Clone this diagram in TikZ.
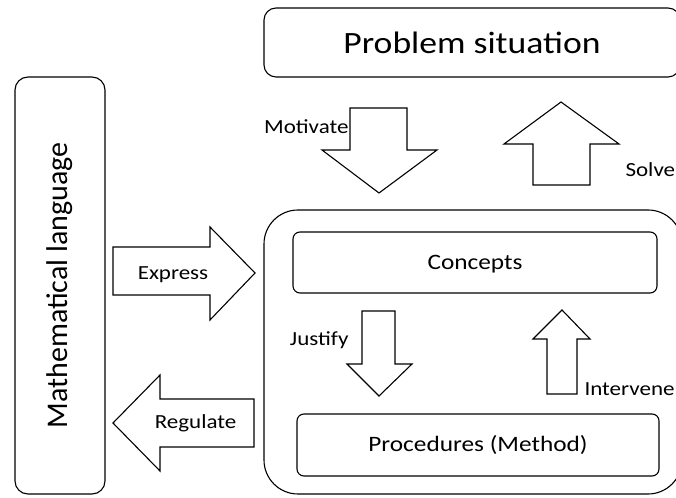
\documentclass[tikz,border=0pt]{standalone}
\usepackage{fontspec}
\setmainfont[FakeStretch=1.15]{Carlito}
\newfontfamily\sidefont{Carlito}
\begin{document}
\begin{tikzpicture}[x=10pt,y=10pt,line width=1.1pt,
  box/.style={draw,rectangle,rounded corners=#1,inner sep=0pt},
  box/.default=7pt,
  blockarrow/.style={draw,line join=miter,fill=white},
  lbl/.style={font=\fontsize{20}{24}\selectfont,inner sep=0pt}]
\useasboundingbox (0,0) rectangle (67.6,49.7);
\clip (0,0) rectangle (67.6,49.7);

\node[box=12pt,minimum width=416pt,minimum height=69pt,font=\fontsize{31}{36}\selectfont] (problem) at (47.2,45.45) {Problem situation};
\node[box=13pt,rotate=90,minimum width=417pt,minimum height=90pt,font=\sidefont\fontsize{30}{36}\selectfont] (mathlang) at (6.0,21.15) {Mathematical language};

\node[box=34pt,minimum width=418pt,minimum height=284pt] (knowledge) at (47.3,14.5) {};
\node[box,minimum width=364pt,minimum height=61pt,text depth=0pt,font=\fontsize{22}{26}\selectfont] (concepts) at (47.5,23.45) {Concepts};
\node[box,minimum width=362pt,minimum height=62pt,font=\fontsize{22}{26}\selectfont] (procedures) at (47.8,5.2) {Procedures (Method)};

% problem situation <-> knowledge
\draw[blockarrow] (35.0,38.9) -- (40.7,38.9) -- (40.7,34.7) -- (43.7,34.7) -- (37.9,30.4) -- (32.2,34.7) -- (35.0,34.7) -- cycle;
\node[lbl,anchor=east] (motivate) at (34.9,37.0) {Motivate};
\draw[blockarrow] (53.3,31.2) -- (59.0,31.2) -- (59.0,35.3) -- (61.9,35.3) -- (56.1,39.5) -- (50.4,35.3) -- (53.3,35.3) -- cycle;
\node[lbl,anchor=west] (solve) at (62.5,32.7) {Solve};

% concepts <-> procedures
\draw[blockarrow] (36.2,18.6) -- (39.5,18.6) -- (39.5,13.3) -- (41.2,13.3) -- (37.9,10.1) -- (34.7,13.3) -- (36.2,13.3) -- cycle;
\node[lbl,anchor=east] (justify) at (34.9,15.7) {Justify};
\draw[blockarrow] (54.7,10.3) -- (57.7,10.3) -- (57.7,15.8) -- (59.0,15.8) -- (56.2,18.7) -- (53.3,15.8) -- (54.7,15.8) -- cycle;
\node[lbl,anchor=west] (intervene) at (58.4,10.8) {Intervene};

% language <-> knowledge
\draw[blockarrow] (11.3,25.0) -- (21.0,25.0) -- (21.0,27.0) -- (25.5,22.4) -- (21.0,17.7) -- (21.0,20.2) -- (11.3,20.2) -- cycle;
\node[lbl] (express) at (17.3,22.2) {Express};
\draw[blockarrow] (25.4,9.8) -- (16.0,9.8) -- (16.0,12.2) -- (11.3,7.4) -- (16.0,2.6) -- (16.0,5.0) -- (25.4,5.0) -- cycle;
\node[lbl] (regulate) at (19.55,7.35) {Regulate};
\end{tikzpicture}
\end{document}
